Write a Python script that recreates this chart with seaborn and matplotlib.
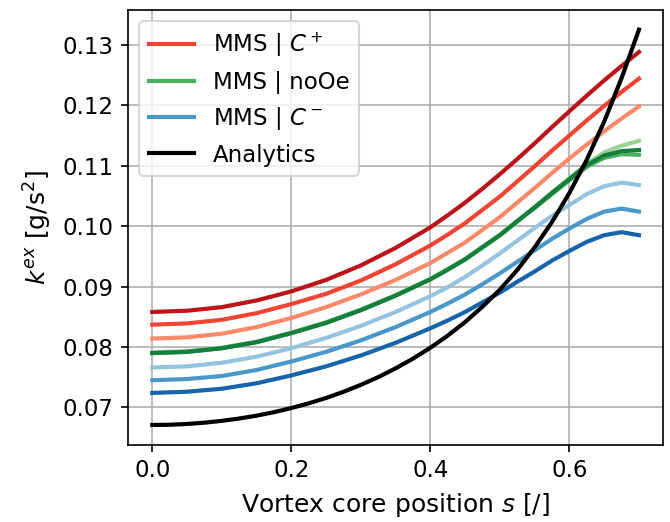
import matplotlib
matplotlib.use("Agg")
import matplotlib.pyplot as plt
from matplotlib.lines import Line2D
import seaborn as sns
import pandas as pd

s = [0.0, 0.05, 0.1, 0.15, 0.2, 0.25, 0.3, 0.35, 0.4, 0.425, 0.45, 0.475, 0.5, 0.525, 0.55, 0.575,
     0.6, 0.625, 0.65, 0.675, 0.7]

red_dark = [0.0858, 0.0860, 0.0866, 0.0877, 0.0892, 0.0911, 0.0935, 0.0964, 0.0998, 0.1018, 0.1039, 0.1062,
            0.1086, 0.1111, 0.1137, 0.1164, 0.1190, 0.1216, 0.1241, 0.1265, 0.1288]
red_mid = [0.0837, 0.0839, 0.0845, 0.0856, 0.0871, 0.0888, 0.0910, 0.0937, 0.0968, 0.0986, 0.1005, 0.1027,
           0.1049, 0.1074, 0.1099, 0.1125, 0.1150, 0.1175, 0.1199, 0.1222, 0.1244]
red_light = [0.0814, 0.0816, 0.0822, 0.0833, 0.0848, 0.0866, 0.0887, 0.0911, 0.0939, 0.0956, 0.0973, 0.0994,
             0.1015, 0.1039, 0.1063, 0.1088, 0.1112, 0.1135, 0.1157, 0.1178, 0.1198]

green_light = [0.0791, 0.0793, 0.0799, 0.0809, 0.0824, 0.0841, 0.0862, 0.0886, 0.0913, 0.0929, 0.0946, 0.0966,
               0.0986, 0.1009, 0.1032, 0.1056, 0.1079, 0.1103, 0.1122, 0.1133, 0.1141]
green_mid = [0.0790, 0.0792, 0.0798, 0.0808, 0.0823, 0.0840, 0.0861, 0.0885, 0.0912, 0.0928, 0.0945, 0.0965,
             0.0985, 0.1008, 0.1030, 0.1053, 0.1076, 0.1098, 0.1113, 0.1119, 0.1118]
green_dark = [0.0790, 0.0792, 0.0798, 0.0808, 0.0823, 0.0840, 0.0861, 0.0885, 0.0912, 0.0928, 0.0945, 0.0965,
              0.0985, 0.1008, 0.1031, 0.1055, 0.1078, 0.1101, 0.1117, 0.1124, 0.1126]

blue_light = [0.0766, 0.0768, 0.0774, 0.0784, 0.0798, 0.0815, 0.0835, 0.0858, 0.0884, 0.0899, 0.0916, 0.0935,
              0.0955, 0.0976, 0.0997, 0.1017, 0.1035, 0.1053, 0.1066, 0.1072, 0.1068]
blue_mid = [0.0745, 0.0747, 0.0752, 0.0762, 0.0776, 0.0792, 0.0811, 0.0833, 0.0858, 0.0872, 0.0887, 0.0904,
            0.0922, 0.0941, 0.0960, 0.0979, 0.0996, 0.1012, 0.1024, 0.1029, 0.1024]
blue_dark = [0.0724, 0.0726, 0.0731, 0.0740, 0.0753, 0.0768, 0.0786, 0.0807, 0.0831, 0.0844, 0.0858, 0.0874,
             0.0890, 0.0908, 0.0925, 0.0943, 0.0959, 0.0974, 0.0985, 0.0990, 0.0985]

s_analytics = [0.0, 0.025, 0.05, 0.075, 0.1, 0.125, 0.15, 0.175, 0.2, 0.225, 0.25, 0.275, 0.3, 0.325, 0.35,
               0.375, 0.4, 0.425, 0.45, 0.475, 0.5, 0.525, 0.55, 0.575, 0.6, 0.625, 0.65, 0.675, 0.7]
analytics = [0.06710, 0.06714, 0.06727, 0.06748, 0.06778, 0.06817, 0.06864, 0.06922, 0.06990, 0.07068,
             0.07157, 0.07259, 0.07374, 0.07502, 0.07647, 0.07808, 0.07988, 0.08189, 0.08414, 0.08668,
             0.08950, 0.09275, 0.09650, 0.10070, 0.10550, 0.11100, 0.11730, 0.12450, 0.13250]

legend_labels = [r"MMS | $C^+$", "MMS | noOe", r"MMS | $C^-$", "Analytics"]

reds = matplotlib.colormaps["Reds"]
greens = matplotlib.colormaps["Greens"]
blues = matplotlib.colormaps["Blues"]

series = [
    (s, red_dark, reds(0.8)), (s, red_mid, reds(0.6)), (s, red_light, reds(0.4)),
    (s, green_light, greens(0.4)), (s, green_mid, greens(0.6)), (s, green_dark, greens(0.8)),
    (s, blue_light, blues(0.4)), (s, blue_mid, blues(0.6)), (s, blue_dark, blues(0.8)),
    (s_analytics, analytics, "black"),
]

plt.rcParams["font.family"] = ["DejaVu Sans"]
plt.rcParams["font.size"] = 11

fig, ax = plt.subplots(figsize=(670 / 150, 522 / 150), dpi=150)
fig.subplots_adjust(left=0.191, right=0.99, top=0.981, bottom=0.148)

for xs, vals, col in series:
    df = pd.DataFrame({"s": xs, "k": vals})
    sns.lineplot(data=df, x="s", y="k", color=col, lw=2, ax=ax)

ax.grid(True, color="#b0b0b0", lw=0.8)
ax.set_axisbelow(True)
ax.set_xlabel(r"Vortex core position $s$ [/]", fontsize=12)
ax.set_ylabel(r"$k^{ex}$ [g/s$^2$]", fontsize=12)
ax.set_xticks([0.0, 0.2, 0.4, 0.6])
ax.set_yticks([0.07, 0.08, 0.09, 0.10, 0.11, 0.12, 0.13])
ax.set_yticklabels(["0.07", "0.08", "0.09", "0.10", "0.11", "0.12", "0.13"])
for sp in ax.spines.values():
    sp.set_color("black")
    sp.set_linewidth(0.8)

handles = [Line2D([], [], color=reds(0.6), lw=2),
           Line2D([], [], color=greens(0.6), lw=2),
           Line2D([], [], color=blues(0.6), lw=2),
           Line2D([], [], color="black", lw=2)]
ax.legend(handles, legend_labels, loc="upper left", fontsize=11)

fig.savefig("out.png", dpi=150)
